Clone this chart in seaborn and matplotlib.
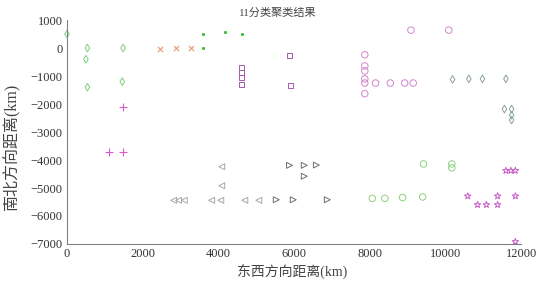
import numpy as np
import pandas as pd
import matplotlib
matplotlib.use('Agg')
import matplotlib.pyplot as plt
import seaborn as sns

# cluster point coordinates (km)
c1_x = [0, 540, 500, 540, 1480, 1460]
c1_y = [500, 0, -400, -1400, 0, -1200]
c2_x = [2470, 2880, 3285]
c2_y = [-40, -10, 0]
c3_x = [3590, 3590, 4185, 4620]
c3_y = [510, 0, 590, 510]
c4_x = [1480, 1100, 1490]
c4_y = [-2100, -3700, -3700]
c5_x = [4600, 4600, 4600, 4600, 5880, 5900]
c5_y = [-710, -885, -1045, -1305, -270, -1330]
c6_x = [9090, 10090, 7870, 7870, 7870, 7870, 7870, 7870, 8155, 8545, 8925, 9150]
c6_y = [640, 640, -240, -640, -815, -1100, -1250, -1630, -1250, -1250, -1250, -1250]
c7_x = [10190, 10620, 10980, 11600, 11560, 11750, 11750, 11750]
c7_y = [-1120, -1100, -1100, -1100, -2180, -2180, -2400, -2570]
c8_x = [4090, 4090, 2820, 2950, 3100, 3825, 4065, 4700, 5070]
c8_y = [-4240, -4920, -5440, -5440, -5440, -5440, -5440, -5440, -5440]
c9_x = [5880, 6270, 6590, 6270, 5530, 5980, 6880]
c9_y = [-4190, -4190, -4180, -4580, -5420, -5420, -5420]
c10_x = [9420, 10170, 10170, 8070, 8400, 8870, 9400]
c10_y = [-4140, -4140, -4280, -5370, -5370, -5340, -5320]
c11_x = [11600, 11730, 11850, 10590, 10850, 11085, 11380, 11380, 11850, 11850]
c11_y = [-4380, -4380, -4380, -5290, -5600, -5600, -5600, -5290, -5290, -6920]

clusters = [
    (c1_x, c1_y, 'd', '#7ccf7c', 'none', 15),
    (c2_x, c2_y, 'x', '#e59a78', None, 14),
    (c3_x, c3_y, 'o', '#33bb33', 'fill', 3),
    (c4_x, c4_y, '+', '#d85cc8', None, 26),
    (c5_x, c5_y, 's', '#a858b0', 'none', 13),
    (c6_x, c6_y, 'o', '#d484cc', 'none', 22),
    (c7_x, c7_y, 'd', '#88a498', 'none', 15),
    (c8_x, c8_y, '<', '#a2aaa8', 'none', 18),
    (c9_x, c9_y, '>', '#6e6e6e', 'none', 18),
    (c10_x, c10_y, 'o', '#8ccf7e', 'none', 22),
    (c11_x, c11_y, '*', '#c85cc8', 'none', 24),
]

sns.set_style('white')
plt.rcParams['font.family'] = ['Liberation Serif', 'Noto Sans CJK SC', 'DejaVu Sans']
plt.rcParams['axes.unicode_minus'] = True

fig = plt.figure(figsize=(5.38, 2.86), dpi=100)
ax = fig.add_axes([0.1245, 0.1469, 0.844, 0.783])

for xs, ys, m, col, face, s in clusters:
    df = pd.DataFrame({'x': xs, 'y': ys})
    if face == 'none':
        sns.scatterplot(data=df, x='x', y='y', ax=ax, marker=m, s=s,
                        facecolors='none', edgecolors=col, linewidth=0.7, clip_on=False)
    elif face == 'fill':
        sns.scatterplot(data=df, x='x', y='y', ax=ax, marker=m, s=s, color=col,
                        edgecolor=col, linewidth=0.5, clip_on=False)
    else:
        # unfilled markers (x, +) take their colour from c
        sns.scatterplot(data=df, x='x', y='y', ax=ax, marker=m, s=s, color=col,
                        edgecolor=col, linewidth=0.8, clip_on=False)

ax.set_xlim(0, 12000)
ax.set_ylim(-7000, 1000)
ax.set_xticks(np.arange(0, 12001, 2000))
ax.set_yticks(np.arange(-7000, 1001, 1000))
sns.despine(ax=ax)
for sp in ['left', 'bottom']:
    ax.spines[sp].set_color('#808080')
    ax.spines[sp].set_linewidth(0.8)
ax.tick_params(direction='in', length=3, width=0.6, color='#808080',
               labelsize=9, labelcolor='#333333', pad=3)

ax.set_xlabel('东西方向距离(km)', fontsize=10, color='#444444', va='center')
ax.xaxis.set_label_coords(0.496, -0.125)
ax.set_ylabel('南北方向距离(km)', fontsize=11.5, color='#444444', va='center')
ax.yaxis.set_label_coords(-0.121, 0.433)
ax.text(0.4637, 1.031, '11分类聚类结果', transform=ax.transAxes, ha='center',
        va='center', fontsize=8, color='#444444')

fig.savefig('out.png', dpi=100)
